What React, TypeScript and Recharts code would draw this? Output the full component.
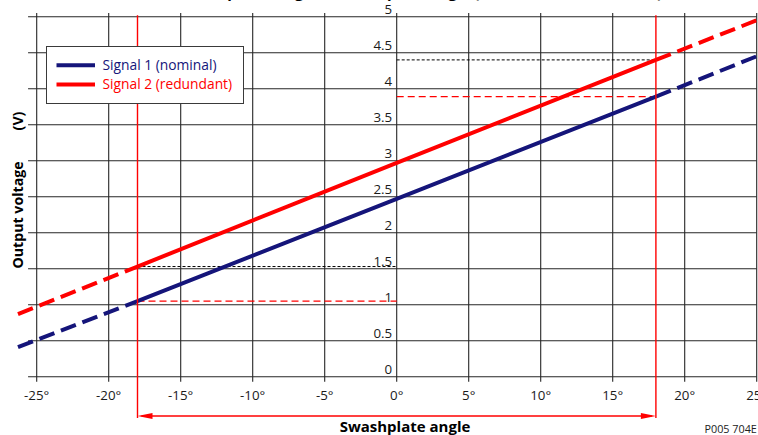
import React from "react";
import {
  LineChart,
  Line,
  XAxis,
  YAxis,
  ReferenceLine,
  ReferenceDot,
  Legend,
} from "recharts";

// ---- data ----
const angles = [-26.3, -18, 0, 18, 25];
const signal1 = [0.41, 1.05, 2.47, 3.89, 4.45]; // Signal 1 (nominal)
const signal2 = [0.87, 1.53, 2.97, 4.4, 4.95]; // Signal 2 (redundant)
const limitAngle = 18;
const xTicks = [-25, -20, -15, -10, -5, 0, 5, 10, 15, 20, 25];
const yTicks = [0, 0.5, 1, 1.5, 2, 2.5, 3, 3.5, 4, 4.5, 5];
const yTickLabels = ["0", "0.5", "1", "1.5", "2", "2.5", "3", "3.5", "4", "4.5", "5"];
const seriesNames = ["Signal 1 (nominal)", "Signal 2 (redundant)"];

const BLUE = "#15157a";
const RED = "#ff0000";
const GRID = "#262626";
const FONT = "'Open Sans', 'Noto Sans', sans-serif";

const toPts = (vals: number[]) => angles.map((a, i) => ({ x: a, y: vals[i] }));
const s1 = toPts(signal1);
const s2 = toPts(signal2);
const solid = (p: { x: number; y: number }[]) => p.filter((d) => d.x >= -limitAngle && d.x <= limitAngle);
const dashL = (p: { x: number; y: number }[]) => p.filter((d) => d.x <= -limitAngle);
const dashR = (p: { x: number; y: number }[]) => p.filter((d) => d.x >= limitAngle);
const valAt = (vals: number[], a: number) => vals[angles.indexOf(a)];

const W = 758;
const H = 435;

const LegendBox = () => (
  <svg width={198} height={58} style={{ display: "block" }}>
    <rect x={0.5} y={0.5} width={197} height={57} fill="#fff" stroke="#3a3a3a" strokeWidth={1} />
    <line x1={10.5} x2={49} y1={19.3} y2={19.3} stroke={BLUE} strokeWidth={4} />
    <line x1={10.5} x2={49} y1={38.6} y2={38.6} stroke={RED} strokeWidth={4} />
    <text x={56.5} y={24} fontFamily={FONT} fontSize={13.8} fill={BLUE}>
      {seriesNames[0]}
    </text>
    <text x={56.5} y={43.3} fontFamily={FONT} fontSize={13.8} fill={RED}>
      {seriesNames[1]}
    </text>
  </svg>
);

const arrowShape = (props: any) => {
  const { x1, y1, x2, y2 } = props;
  const L = 15;
  const h = 3;
  return (
    <g>
      <line x1={x1 + 4} y1={y1} x2={x2 - 4} y2={y2} stroke={RED} strokeWidth={1.4} />
      <polygon points={`${x1},${y1} ${x1 + L},${y1 - h} ${x1 + L},${y1 + h}`} fill={RED} />
      <polygon points={`${x2},${y2} ${x2 - L},${y2 - h} ${x2 - L},${y2 + h}`} fill={RED} />
    </g>
  );
};

export default function App() {
  return (
    <div style={{ position: "absolute", left: 0, top: 0, width: W, height: H, background: "#fff" }}>
      <LineChart
        width={W}
        height={H}
        margin={{ top: 16.7, right: 1.3, bottom: 28.3, left: 15.1 }}
        style={{ fontFamily: FONT }}
      >
        <XAxis
          dataKey="x"
          type="number"
          domain={[-26.5, 25]}
          ticks={xTicks}
          interval={0}
          allowDataOverflow
          axisLine={false}
          tickLine={false}
          tickSize={5}
          tickMargin={9}
          height={30}
          tickFormatter={(v: number) => `${v}°`}
          tick={{ fontSize: 13.3, fill: "#1a1a1a", fontFamily: FONT }}
        />
        <YAxis type="number" domain={[0, 5]} hide allowDataOverflow />

        {/* horizontal grid */}
        {yTicks.map((v) => (
          <ReferenceLine
            key={`h${v}`}
            segment={[
              { x: -25.6, y: v },
              { x: 25, y: v },
            ]}
            stroke={GRID}
            strokeWidth={1.1}
            ifOverflow="visible"
          />
        ))}
        {/* vertical grid */}
        {xTicks.map((v) => (
          <ReferenceLine
            key={`v${v}`}
            segment={[
              { x: v, y: -0.07 },
              { x: v, y: 5.05 },
            ]}
            stroke={GRID}
            strokeWidth={1.1}
            ifOverflow="visible"
          />
        ))}

        {/* y tick labels next to the zero axis */}
        {yTicks.map((v, i) => (
          <ReferenceDot
            key={`yl${v}`}
            x={0}
            y={v}
            r={0}
            ifOverflow="visible"
            shape={(p: any) => (
              <text
                x={p.cx - 4.5}
                y={p.cy - 3}
                textAnchor="end"
                fontSize={13.3}
                fill="#1a1a1a"
                fontFamily={FONT}
              >
                {yTickLabels[i]}
              </text>
            )}
          />
        ))}

        {/* helper lines at the limits */}
        <ReferenceLine
          segment={[
            { x: -limitAngle, y: valAt(signal2, -limitAngle) },
            { x: 0, y: valAt(signal2, -limitAngle) },
          ]}
          stroke="#000"
          strokeWidth={1}
          strokeDasharray="3 2"
        />
        <ReferenceLine
          segment={[
            { x: 0, y: valAt(signal2, limitAngle) },
            { x: limitAngle, y: valAt(signal2, limitAngle) },
          ]}
          stroke="#000"
          strokeWidth={1}
          strokeDasharray="3 2"
        />
        <ReferenceLine
          segment={[
            { x: -limitAngle, y: valAt(signal1, -limitAngle) },
            { x: 0, y: valAt(signal1, -limitAngle) },
          ]}
          stroke={RED}
          strokeWidth={1.4}
          strokeDasharray="7 4"
        />
        <ReferenceLine
          segment={[
            { x: 0, y: valAt(signal1, limitAngle) },
            { x: limitAngle, y: valAt(signal1, limitAngle) },
          ]}
          stroke={RED}
          strokeWidth={1.4}
          strokeDasharray="7 4"
        />

        {/* series */}
        <Line data={dashL(s1)} dataKey="y" stroke={BLUE} strokeWidth={4} strokeDasharray="16 7" dot={false} isAnimationActive={false} legendType="none" />
        <Line data={dashR(s1)} dataKey="y" stroke={BLUE} strokeWidth={4} strokeDasharray="16 7" dot={false} isAnimationActive={false} legendType="none" />
        <Line data={solid(s1)} dataKey="y" name={seriesNames[0]} stroke={BLUE} strokeWidth={4} dot={false} isAnimationActive={false} />
        <Line data={dashL(s2)} dataKey="y" stroke={RED} strokeWidth={4} strokeDasharray="16 7" dot={false} isAnimationActive={false} legendType="none" />
        <Line data={dashR(s2)} dataKey="y" stroke={RED} strokeWidth={4} strokeDasharray="16 7" dot={false} isAnimationActive={false} legendType="none" />
        <Line data={solid(s2)} dataKey="y" name={seriesNames[1]} stroke={RED} strokeWidth={4} dot={false} isAnimationActive={false} />

        {/* limit verticals */}
        <ReferenceLine
          segment={[
            { x: -limitAngle, y: -0.575 },
            { x: -limitAngle, y: 5.02 },
          ]}
          stroke={RED}
          strokeWidth={1.4}
          ifOverflow="visible"
        />
        <ReferenceLine
          segment={[
            { x: limitAngle, y: -0.575 },
            { x: limitAngle, y: 5.02 },
          ]}
          stroke={RED}
          strokeWidth={1.4}
          ifOverflow="visible"
        />
        {/* range arrow */}
        <ReferenceLine
          segment={[
            { x: -limitAngle, y: -0.545 },
            { x: limitAngle, y: -0.545 },
          ]}
          ifOverflow="visible"
          shape={arrowShape}
        />

        <Legend
          layout="horizontal"
          verticalAlign="middle"
          align="center"
          content={() => <LegendBox />}
          wrapperStyle={{ left: 46, top: 45.5, width: 198, height: 58, position: "absolute" }}
        />

        {/* titles */}
        <text x={199} y={-1.8} fontFamily={FONT} fontSize={15} fontWeight={700} fill="#000">
          Output voltage vs. swashplate angle (nominal and redundant)
        </text>
        <text
          x={22.5}
          y={215}
          transform="rotate(-90 22.5 215)"
          textAnchor="middle"
          fontFamily={FONT}
          fontSize={14.2}
          fontWeight={700}
          fill="#000"
        >
          Output voltage
        </text>
        <text
          x={22.5}
          y={121}
          transform="rotate(-90 22.5 121)"
          textAnchor="middle"
          fontFamily={FONT}
          fontSize={14.2}
          fontWeight={700}
          fill="#000"
        >
          (V)
        </text>
        <text x={405} y={431.5} textAnchor="middle" fontFamily={FONT} fontSize={15} fontWeight={700} fill="#000">
          Swashplate angle
        </text>
        <text x={704.5} y={433} fontFamily={FONT} fontSize={10.8} fill="#222">
          P005 704E
        </text>
      </LineChart>
    </div>
  );
}
